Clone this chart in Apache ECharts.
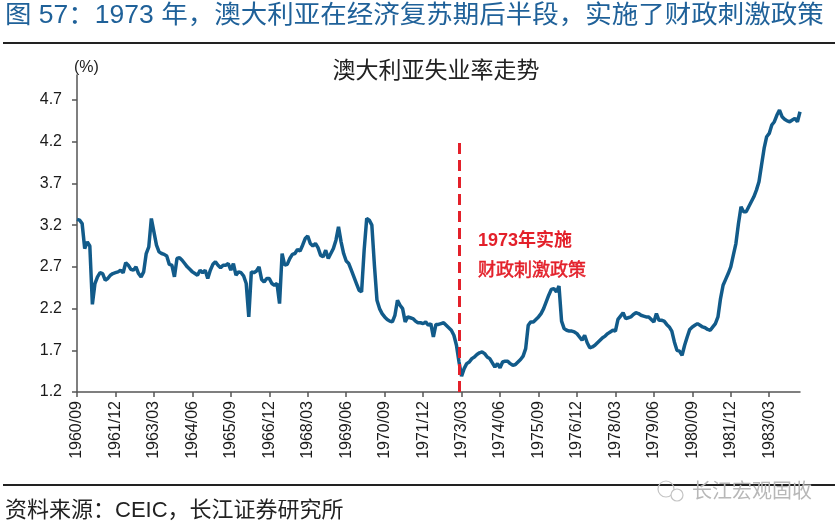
<!DOCTYPE html>
<html>
<head>
<meta charset="utf-8">
<script src="https://cdn.jsdelivr.net/npm/echarts@6/dist/echarts.min.js"></script>
<style>
html,body{margin:0;padding:0;background:#fff;}
#c{width:838px;height:526px;}
</style>
</head>
<body>
<div id="c"></div>
<script>
// Monthly unemployment rate (%), 1960/09 – 1984/03
var v1960 = [3.27, 3.26, 3.22, 2.92];
var v1961 = [3.00, 2.95, 2.25, 2.50, 2.58, 2.63, 2.62, 2.54, 2.56, 2.60, 2.62, 2.63];
var v1962 = [2.64, 2.66, 2.63, 2.75, 2.72, 2.67, 2.66, 2.70, 2.62, 2.58, 2.64, 2.86];
var v1963 = [2.94, 3.28, 3.12, 2.96, 2.88, 2.86, 2.85, 2.83, 2.73, 2.72, 2.58, 2.80];
var v1964 = [2.81, 2.78, 2.74, 2.70, 2.67, 2.64, 2.62, 2.60, 2.66, 2.63, 2.66, 2.56];
var v1965 = [2.66, 2.73, 2.76, 2.72, 2.69, 2.72, 2.72, 2.74, 2.66, 2.74, 2.60, 2.64];
var v1966 = [2.63, 2.59, 2.50, 2.10, 2.64, 2.63, 2.65, 2.70, 2.55, 2.52, 2.56, 2.56];
var v1967 = [2.50, 2.48, 2.50, 2.26, 2.86, 2.72, 2.73, 2.80, 2.85, 2.86, 2.91, 2.89];
var v1968 = [2.96, 3.04, 3.07, 2.98, 2.95, 2.98, 2.93, 2.84, 2.82, 2.90, 2.80, 2.86];
var v1969 = [2.92, 3.02, 3.18, 3.00, 2.86, 2.77, 2.74, 2.66, 2.58, 2.50, 2.42, 2.40];
var v1970 = [2.90, 3.28, 3.26, 3.20, 2.72, 2.30, 2.20, 2.14, 2.10, 2.07, 2.05, 2.04];
var v1971 = [2.12, 2.30, 2.24, 2.20, 2.04, 2.10, 2.09, 2.08, 2.05, 2.03, 2.03, 2.02];
var v1972 = [2.04, 2.00, 2.02, 1.86, 2.01, 2.01, 2.02, 2.03, 2.00, 1.97, 1.94, 1.88];
var v1973 = [1.76, 1.56, 1.39, 1.48, 1.54, 1.56, 1.60, 1.62, 1.65, 1.67, 1.68, 1.66];
var v1974 = [1.62, 1.60, 1.55, 1.50, 1.54, 1.49, 1.56, 1.57, 1.57, 1.54, 1.52, 1.53];
var v1975 = [1.56, 1.59, 1.63, 1.72, 2.00, 2.04, 2.04, 2.07, 2.10, 2.14, 2.20, 2.28];
var v1976 = [2.36, 2.43, 2.44, 2.40, 2.47, 2.05, 1.96, 1.94, 1.93, 1.93, 1.92, 1.90];
var v1977 = [1.86, 1.82, 1.88, 1.79, 1.73, 1.74, 1.76, 1.79, 1.82, 1.85, 1.87, 1.90];
var v1978 = [1.92, 1.94, 1.93, 2.07, 2.11, 2.15, 2.08, 2.09, 2.10, 2.13, 2.15, 2.14];
var v1979 = [2.12, 2.11, 2.10, 2.10, 2.07, 2.04, 2.14, 2.06, 2.06, 2.05, 2.01, 1.98];
var v1980 = [1.93, 1.80, 1.70, 1.69, 1.64, 1.76, 1.86, 1.95, 1.98, 2.00, 2.02, 2.00];
var v1981 = [1.98, 1.97, 1.95, 1.94, 1.98, 2.02, 2.10, 2.32, 2.48, 2.55, 2.62, 2.70];
var v1982 = [2.84, 2.98, 3.22, 3.42, 3.36, 3.36, 3.42, 3.48, 3.54, 3.62, 3.72, 3.92];
var v1983 = [4.12, 4.26, 4.30, 4.40, 4.44, 4.52, 4.58, 4.50, 4.47, 4.45, 4.44, 4.46];
var v1984 = [4.48, 4.44, 4.56];

var startYear = 1960, startMonth = 9;
var yTicks = [1.2, 1.7, 2.2, 2.7, 3.2, 3.7, 4.2, 4.7];
var policyMonth = '1973/02';
var policyTop = 4.2;
var titleText = '图 57：1973 年，澳大利亚在经济复苏期后半段，实施了财政刺激政策';
var chartTitle = '澳大利亚失业率走势';
var noteLines = ['1973年实施', '财政刺激政策'];
var sourceText = '资料来源：CEIC，长江证券研究所';
var watermark = '长江宏观固收';

var values = [].concat(v1960, v1961, v1962, v1963, v1964, v1965, v1966, v1967,
  v1968, v1969, v1970, v1971, v1972, v1973, v1974, v1975, v1976, v1977, v1978,
  v1979, v1980, v1981, v1982, v1983, v1984);
var categories = [];
for (var i = 0; i < values.length; i++) {
  var m = startMonth - 1 + i;
  var y = startYear + Math.floor(m / 12);
  var mm = (m % 12) + 1;
  categories.push(y + '/' + (mm < 10 ? '0' + mm : '' + mm));
}

var chart = echarts.init(document.getElementById('c'));
var font = '"Liberation Sans", Arial, "Noto Sans CJK SC", sans-serif';
var mixed = '"Liberation Sans", "Noto Sans CJK SC", sans-serif';
var cjk = '"Noto Sans CJK SC", "Liberation Sans", sans-serif';
chart.setOption({
  animation: false,
  backgroundColor: '#ffffff',
  grid: { left: 77, right: 38, top: 75, bottom: 134 },
  xAxis: {
    type: 'category',
    data: categories,
    boundaryGap: false,
    axisLine: { lineStyle: { color: '#555', width: 1.5 } },
    axisTick: { interval: 14, length: 5, lineStyle: { color: '#555', width: 1.5 } },
    axisLabel: { interval: 14, rotate: 90, margin: 9, fontSize: 16, color: '#1a1a1a', fontFamily: font },
    splitLine: { show: false }
  },
  yAxis: {
    type: 'value',
    min: 1.2,
    max: 5.0,
    axisLine: { show: true, lineStyle: { color: '#555', width: 1.5 } },
    axisTick: { show: true, length: 5, customValues: yTicks, lineStyle: { color: '#555', width: 1.5 } },
    axisLabel: { customValues: yTicks, margin: 15, fontSize: 16, color: '#1a1a1a', fontFamily: font,
      formatter: function (v) { return v.toFixed(1); } },
    splitLine: { show: false }
  },
  series: [{
    type: 'line',
    data: values,
    symbol: 'none',
    lineStyle: { color: '#125b8a', width: 3.5 },
    markLine: {
      silent: true,
      symbol: ['none', 'none'],
      label: { show: false },
      lineStyle: { color: '#e3202a', width: 3, type: [11, 6] },
      data: [[{ coord: [policyMonth, 1.2] }, { coord: [policyMonth, policyTop] }]]
    }
  }],
  graphic: [
    { type: 'text', x: 5, y: 4, scaleX: 1.06, style: { text: titleText, font: '25px ' + mixed, fill: '#1f6199' } },
    { type: 'rect', shape: { x: 3, y: 42, width: 832, height: 2 }, style: { fill: '#222' } },
    { type: 'text', x: 436, y: 58, style: { text: chartTitle, font: '23px ' + cjk, fill: '#222', textAlign: 'center' } },
    { type: 'text', x: 74, y: 60, style: { text: '(%)', font: '16px ' + font, fill: '#222' } },
    { type: 'text', x: 478, y: 232, style: { text: noteLines[0], font: 'bold 18px ' + mixed, fill: '#e3202a' } },
    { type: 'text', x: 478, y: 260, style: { text: noteLines[1], font: '18px ' + cjk, fill: '#e3202a', stroke: '#e3202a', lineWidth: 0.5 } },
    { type: 'rect', shape: { x: 3, y: 484, width: 832, height: 2 }, style: { fill: '#222' } },
    { type: 'text', x: 5, y: 500, style: { text: sourceText, font: '22px ' + mixed, fill: '#222' } },
    { type: 'circle', shape: { cx: 666, cy: 489, r: 8 }, style: { fill: 'none', stroke: '#c4c4c4', lineWidth: 1.2 } },
    { type: 'circle', shape: { cx: 677, cy: 495, r: 6 }, style: { fill: '#fff', stroke: '#c4c4c4', lineWidth: 1.2 } },
    { type: 'text', x: 692, y: 480, style: { text: watermark, font: '20px ' + cjk, fill: '#b8b8b8' } }
  ]
});
</script>
</body>
</html>
